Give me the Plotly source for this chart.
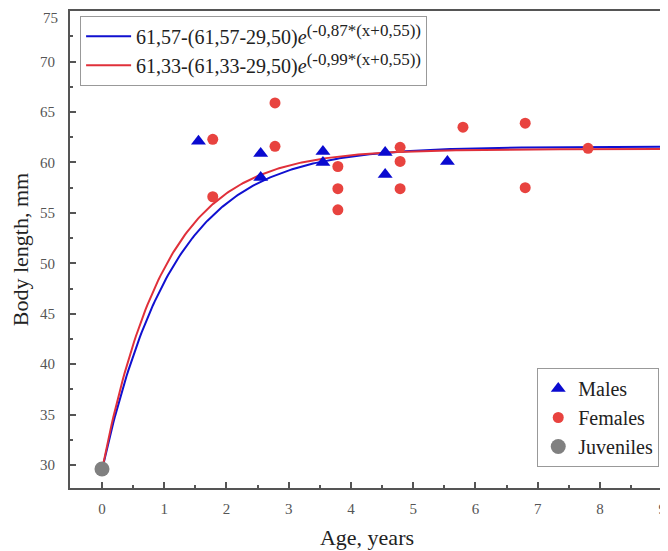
import numpy as np
import plotly.graph_objects as go

# Data
males_age = [1.55, 2.55, 2.55, 3.55, 3.55, 4.55, 4.55, 5.55]
males_len = [62.1, 60.9, 58.5, 61.1, 60.0, 61.0, 58.8, 60.1]

females_age = [1.78, 1.78, 2.78, 2.78, 3.79, 3.79, 3.79, 4.79, 4.79, 4.79, 5.8, 6.8, 6.8, 7.81]
females_len = [62.3, 56.6, 65.9, 61.6, 59.6, 57.4, 55.3, 61.5, 60.1, 57.4, 63.5, 63.9, 57.5, 61.4]

juv_age = [0.0]
juv_len = [29.6]

y_ticks = [30, 35, 40, 45, 50, 55, 60, 65, 70, 75]
x_ticks = [0, 1, 2, 3, 4, 5, 6, 7, 8, 9]

# Growth model parameters (von Bertalanffy), from the legend
L0 = 29.50
male_Linf, male_k = 61.57, 0.87
female_Linf, female_k = 61.33, 0.99

xs = np.linspace(0, 9.05, 300)
male_curve = male_Linf - (male_Linf - L0) * np.exp(-male_k * xs)
female_curve = female_Linf - (female_Linf - L0) * np.exp(-female_k * xs)

FONT = "Liberation Serif, Times New Roman, Times, serif"
SUP = "<sup><span style='font-size:17px'>%s</span></sup>"

fig = go.Figure()
fig.add_trace(go.Scatter(
    x=xs, y=male_curve, mode="lines", line=dict(color="#1010d0", width=2),
    name="61,57-(61,57-29,50)<i>e</i>" + SUP % "(-0,87*(x+0,55))", legend="legend"))
fig.add_trace(go.Scatter(
    x=xs, y=female_curve, mode="lines", line=dict(color="#e0303a", width=2),
    name="61,33-(61,33-29,50)<i>e</i>" + SUP % "(-0,99*(x+0,55))", legend="legend"))
fig.add_trace(go.Scatter(
    x=males_age, y=males_len, mode="markers", name="Males",
    marker=dict(symbol="triangle-up", size=13, color="#0a0ad0"), legend="legend2"))
fig.add_trace(go.Scatter(
    x=females_age, y=females_len, mode="markers", name="Females",
    marker=dict(symbol="circle", size=11, color="#e8433f"), legend="legend2"))
fig.add_trace(go.Scatter(
    x=juv_age, y=juv_len, mode="markers", name="Juveniles",
    marker=dict(symbol="circle", size=15, color="#808080"), legend="legend2"))

TICKFONT = dict(family=FONT, size=15, color="#555555")
axis_common = dict(
    showline=True, linecolor="#555555", linewidth=2, mirror=True,
    ticks="inside", ticklen=6, tickwidth=1.5, tickcolor="#555555",
    showgrid=False, zeroline=False, automargin=False,
    ticklabeloverflow="allow",
    tickfont=TICKFONT,
)

# the top tick label would be clipped by the figure edge; draw it just inside
fig.add_annotation(
    text=str(y_ticks[-1]), xref="paper", x=0, xanchor="right", xshift=-10,
    yref="y", y=y_ticks[-1], yanchor="top", yshift=3, showarrow=False,
    font=TICKFONT)

# page body has an 8px margin, so the figure is sized to fit the window
fig.update_layout(
    width=660, height=543,
    margin=dict(l=62, r=4, t=3, b=63, autoexpand=False),
    paper_bgcolor="white", plot_bgcolor="white",
    font=dict(family=FONT, color="#222222"),
    xaxis=dict(
        range=[-0.514, 9.03], tickvals=x_ticks,
        minor=dict(ticks="inside", ticklen=3, dtick=0.5, tick0=0, tickcolor="#555555"),
        ticklabelstandoff=6,
        title=dict(text="Age, years", font=dict(family=FONT, size=22, color="#222222"), standoff=14),
        **axis_common),
    yaxis=dict(
        range=[27.72, 75.02], tickvals=y_ticks[:-1],
        minor=dict(ticks="inside", ticklen=3, dtick=2.5, tick0=30, tickcolor="#555555"),
        ticklabelstandoff=10,
        title=dict(text="Body length, mm", font=dict(family=FONT, size=22, color="#222222"), standoff=6),
        **axis_common),
    legend=dict(
        x=0.017, y=0.99, xanchor="left", yanchor="top",
        bgcolor="white", bordercolor="#999999", borderwidth=1,
        font=dict(family=FONT, size=20, color="#222222"),
        itemwidth=45, tracegroupgap=0),
    legend2=dict(
        x=0.992, y=0.044, xanchor="right", yanchor="bottom",
        bgcolor="white", bordercolor="#999999", borderwidth=1,
        font=dict(family=FONT, size=20, color="#222222"),
        tracegroupgap=0),
    showlegend=True,
)

fig.write_html("out.html")
